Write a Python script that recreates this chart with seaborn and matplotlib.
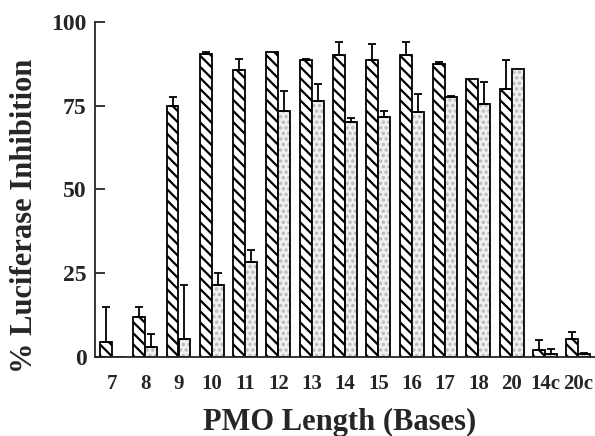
import numpy as np
import pandas as pd
import matplotlib
matplotlib.use("Agg")
import matplotlib.pyplot as plt
import seaborn as sns
from matplotlib.colors import to_rgba

# ─── Data ─────────────────────────────────────────────────────────────────────
lengths = ["7", "8", "9", "10", "11", "12", "13", "14", "15", "16",
           "17", "18", "20", "14c", "20c"]
series_names = ["A", "B"]
hatched_vals = [4.5, 12, 75, 90.5, 85.5, 91, 88.5, 90, 88.5, 90,
                87.5, 83, 80, 2, 5.5]
hatched_err = [10.5, 3, 2.5, 0.5, 3.5, 0, 0.5, 4, 5, 4,
               0.5, 0, 8.5, 3, 2]
dotted_vals = [0, 3, 5.5, 21.5, 28.5, 73.5, 76.5, 70, 71.5, 73,
               77.5, 75.5, 86, 1, 0.8]
dotted_err = [0, 4, 16, 3.5, 3.5, 6, 5, 1.3, 2, 5.5,
              0.5, 6.5, 0, 1.5, 0.5]

df = pd.DataFrame({
    "length": lengths * 2,
    "series": [series_names[0]] * len(lengths) + [series_names[1]] * len(lengths),
    "value": hatched_vals + dotted_vals,
    "err": hatched_err + dotted_err,
})

# ─── Style ────────────────────────────────────────────────────────────────────
sns.set_style("ticks")
plt.rcParams["font.family"] = ["Liberation Serif", "DejaVu Serif"]
plt.rcParams["font.weight"] = "bold"
plt.rcParams["hatch.linewidth"] = 1.6

fig = plt.figure(figsize=(5.95, 4.36), dpi=100)
ax = fig.add_axes([0.16, 0.181, 0.84, 0.769])

sns.barplot(data=df, x="length", y="value", hue="series", order=lengths,
            hue_order=series_names, width=0.72, errorbar=None, legend=False,
            palette=["white", "#eeeeee"], edgecolor="black", linewidth=1.3,
            saturation=1, ax=ax)

n = len(lengths)
bars = ax.patches[:2 * n]
for i, p in enumerate(bars):
    p.set_edgecolor("black")
    if i < n:
        p.set_hatch("\\\\\\")
        p.set_facecolor("white")
    else:
        p.set_hatch("...")
        p.set_facecolor("#f0f0f0")
        # grey stipple inside, black outline
        p._hatch_color = to_rgba("0.72")

# upward-only error bars, placed at the bar centres from seaborn
centres = [p.get_x() + p.get_width() / 2 for p in bars]
vals = hatched_vals + dotted_vals
errs = hatched_err + dotted_err
for xc, v, e in zip(centres, vals, errs):
    if e > 0:
        ax.errorbar(xc, v, yerr=[[0], [e]], fmt="none", ecolor="black",
                    elinewidth=1.3, capsize=3, capthick=1.3, zorder=1)

ax.set_xlim(-0.5, n - 0.5)
ax.set_ylim(0, 100)
ax.set_yticks([0, 25, 50, 75, 100])
ax.tick_params(axis="y", direction="in", length=7.5, width=1.3,
               labelsize=17, pad=6)
ax.tick_params(axis="x", length=0, labelsize=15, pad=12)
for lab in ax.get_xticklabels() + ax.get_yticklabels():
    lab.set_fontweight("bold")

for side in ["top", "right"]:
    ax.spines[side].set_visible(False)
ax.spines["left"].set_linewidth(1.3)
ax.spines["bottom"].set_linewidth(1.3)

ax.set_xlabel("PMO Length (Bases)", fontsize=22, fontweight="bold")
ax.set_ylabel("% Luciferase Inhibition", fontsize=22, fontweight="bold")
ax.xaxis.set_label_coords(0.49, -0.152)
ax.yaxis.set_label_coords(-0.112, 0.42)

fig.savefig("out.png", dpi=100)
